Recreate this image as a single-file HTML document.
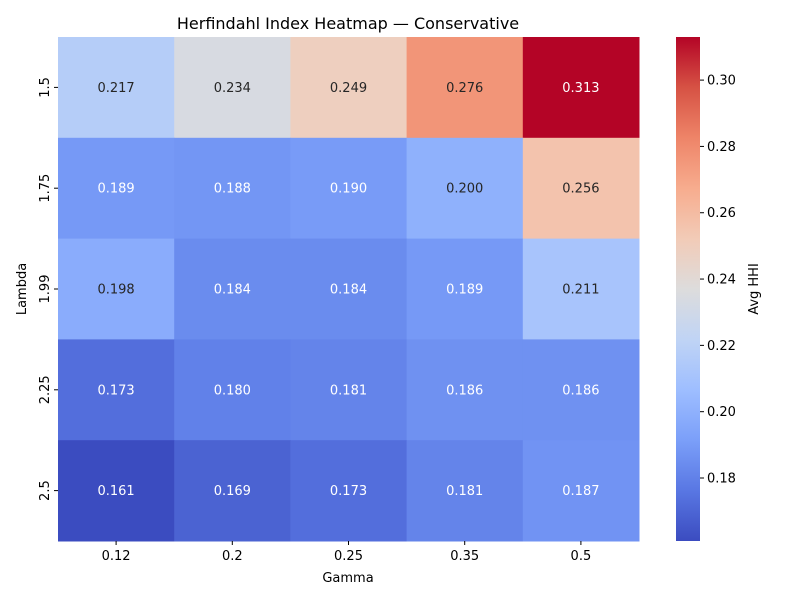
<!DOCTYPE html>
<html><head><meta charset="utf-8"><style>
body{margin:0;background:#fff;font-family:"Liberation Sans","DejaVu Sans",sans-serif;}
svg text{font-family:"DejaVu Sans","Liberation Sans",sans-serif;}
</style></head><body>
<svg id="chart" width="800" height="600" xmlns="http://www.w3.org/2000/svg">
<defs><linearGradient id="cbgrad" x1="0" y1="1" x2="0" y2="0"></linearGradient></defs>
<text x="348" y="29" font-size="16" text-anchor="middle">Herfindahl Index Heatmap — Conservative</text>
<g id="cells"></g><g id="xt"></g><g id="yt"></g><g id="cb"></g>
<text x="348" y="582" font-size="13" text-anchor="middle">Gamma</text>
<text x="26" y="289" font-size="13" text-anchor="middle" transform="rotate(-90 26 289)">Lambda</text>
<text x="758" y="289" font-size="13" text-anchor="middle" transform="rotate(-90 758 289)">Avg HHI</text>
</svg>
<script>
const gammas=["0.12","0.2","0.25","0.35","0.5"];
const lambdas=["1.5","1.75","1.99","2.25","2.5"];
const row0=[0.217,0.234,0.249,0.276,0.313];
const row1=[0.189,0.188,0.190,0.200,0.256];
const row2=[0.198,0.184,0.184,0.189,0.211];
const row3=[0.173,0.180,0.181,0.186,0.186];
const row4=[0.161,0.169,0.173,0.181,0.187];
const values=[row0,row1,row2,row3,row4];
const cbTicks=[0.18,0.20,0.22,0.24,0.26,0.28,0.30];
const vmin=0.161,vmax=0.313;
const X0=58,X1=639,Y0=37,Y1=541,CBX=676,CBW=24;
const NS="http://www.w3.org/2000/svg";
const stops=[[59,76,192],[89,119,227],[123,159,249],[158,190,255],[192,212,245],[221,220,220],[242,203,183],[247,172,142],[238,132,104],[214,82,68],[180,4,38]];
function cmap(t){t=Math.max(0,Math.min(1,t))*10;const i=Math.min(9,Math.floor(t)),f=t-i;const a=stops[i],b=stops[i+1];return a.map((v,k)=>Math.round(v+(b[k]-v)*f));}
function lum(c){const l=c.map(v=>{v/=255;return v<=0.03928?v/12.92:Math.pow((v+0.055)/1.055,2.4)});return 0.2126*l[0]+0.7152*l[1]+0.0722*l[2];}
const cw=(X1-X0)/gammas.length,ch=(Y1-Y0)/lambdas.length;
function xPos(i){return X0+i*cw;}function yPos(j){return Y0+j*ch;}
function cbY(v){return Y1-(v-vmin)/(vmax-vmin)*(Y1-Y0);}
function mk(tag,attrs,parent){const e=document.createElementNS(NS,tag);for(const k in attrs)e.setAttribute(k,attrs[k]);parent.appendChild(e);return e;}
const cells=document.getElementById('cells');
values.forEach((row,j)=>row.forEach((v,i)=>{
 const c=cmap((v-vmin)/(vmax-vmin));
 const r=mk('rect',{x:xPos(i),y:yPos(j),width:cw+0.5,height:ch+0.5,fill:`rgb(${c})`},cells);
 
 
 const t=mk('text',{x:xPos(i)+cw/2,y:yPos(j)+ch/2+4.5,'font-size':13,'text-anchor':'middle',fill:lum(c)>0.408?'#262626':'#ffffff'},cells);
 t.textContent=v.toFixed(3);
 
 
}));
const xt=document.getElementById('xt');
gammas.forEach((g,i)=>{const x=xPos(i)+cw/2;
 mk('line',{x1:x,x2:x,y1:Y1,y2:Y1+4,stroke:'#000'},xt);
 const t=mk('text',{x:x,y:Y1+19,'font-size':13,'text-anchor':'middle'},xt);t.textContent=g;
 
 });
const yt=document.getElementById('yt');
lambdas.forEach((l,j)=>{const y=yPos(j)+ch/2;
 mk('line',{x1:X0-4,x2:X0,y1:y,y2:y,stroke:'#000'},yt);
 const t=mk('text',{x:X0-8,y:y,'font-size':13,'text-anchor':'middle',transform:`rotate(-90 ${X0-13} ${y})`},yt);
 t.setAttribute('x',X0-13);t.setAttribute('y',y+4);t.textContent=l;
 
 });
const grad=document.getElementById('cbgrad');
for(let k=0;k<=10;k++){const s=document.createElementNS(NS,'stop');s.setAttribute('offset',k/10);s.setAttribute('stop-color',`rgb(${stops[k]})`);grad.appendChild(s);}
const cb=document.getElementById('cb');
const bar=mk('rect',{x:CBX,y:Y0,width:CBW,height:Y1-Y0,fill:'url(#cbgrad)'},cb);


cbTicks.forEach(v=>{const y=cbY(v);
 mk('line',{x1:CBX+CBW,x2:CBX+CBW+4,y1:y,y2:y,stroke:'#000'},cb);
 const t=mk('text',{x:CBX+CBW+7,y:y+4.5,'font-size':13},cb);t.textContent=v.toFixed(2);
 
 });
</script>
</body></html>
